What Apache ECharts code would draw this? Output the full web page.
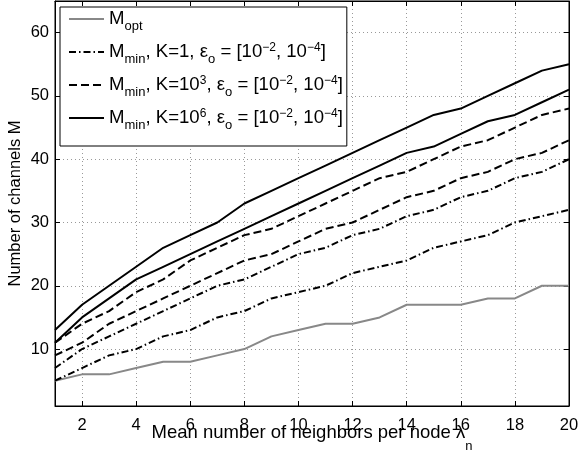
<!DOCTYPE html>
<html><head><meta charset="utf-8">
<script src="https://cdn.jsdelivr.net/npm/echarts@6/dist/echarts.min.js"></script>
<style>html,body{margin:0;padding:0;background:#fff}#c{width:581px;height:454px}</style>
</head><body><div id="c"></div>
<script>
// ---- data ----
const lambdaN = [1,2,3,4,5,6,7,8,9,10,11,12,13,14,15,16,17,18,19,20];
const mOpt   = [5,6,6,7,8,8,9,10,12,13,14,14,15,17,17,17,18,18,20,20];
const k1Eps2 = [5,7,9,10,12,13,15,16,18,19,20,22,23,24,26,27,28,30,31,32];
const k1Eps4 = [7,10,12,14,16,18,20,21,23,25,26,28,29,31,32,34,35,37,38,40];
const k3Eps2 = [9,11,14,16,18,20,22,24,25,27,29,30,32,34,35,37,38,40,41,43];
const k3Eps4 = [11,14,16,19,21,24,26,28,29,31,33,35,37,38,40,42,43,45,47,48];
const k6Eps2 = [11,15,18,21,23,25,27,29,31,33,35,37,39,41,42,44,46,47,49,51];
const k6Eps4 = [13,17,20,23,26,28,30,33,35,37,39,41,43,45,47,48,50,52,54,55];
const xTicks = [2,4,6,8,10,12,14,16,18,20];
const yTicks = [10,20,30,40,50,60];
const legendNames = ['Mopt','K1','K3','K6'];

const FONT = 'Liberation Sans, Arial, Helvetica, sans-serif';
const pair = (xs, ys) => xs.map((x, i) => [x, ys[i]]);
const DASH = [8, 4];
const DASHDOT = [7, 3, 1.5, 3];

const epsPart = '{m|, ε}{sub|o}{m| = [10}{sup|−2}{m|, 10}{sup|−4}{m|]}';
const legendText = {
  Mopt: '{m|M}{sub|opt}',
  K1: '{m|M}{sub|min}{m|, K=1}' + epsPart,
  K3: '{m|M}{sub|min}{m|, K=10}{sup|3}' + epsPart,
  K6: '{m|M}{sub|min}{m|, K=10}{sup|6}' + epsPart
};

function line(name, ys, color, type, width) {
  return {
    name: name, type: 'line', data: pair(lambdaN, ys), symbol: 'none',
    lineStyle: {color: color, type: type, width: width}, itemStyle: {color: color},
    emphasis: {disabled: true}, animation: false, z: 3
  };
}

const axisCommonX = {
  type: 'value', min: 1, max: 20,
  axisLine: {show: true, onZero: false, lineStyle: {color: '#000', width: 1}},
  axisTick: {show: true, inside: true, length: 5, customValues: xTicks, lineStyle: {color: '#000'}},
  axisLabel: {show: true, customValues: xTicks, color: '#000', fontSize: 16.5, fontFamily: FONT, margin: 11},
  splitLine: {show: false}
};
const axisCommonY = {
  type: 'value', min: 1, max: 65,
  axisLine: {show: true, onZero: false, lineStyle: {color: '#000', width: 1}},
  axisTick: {show: true, inside: true, length: 5, customValues: yTicks, lineStyle: {color: '#000'}},
  axisLabel: {show: true, customValues: yTicks, color: '#000', fontSize: 16.5, fontFamily: FONT, margin: 6},
  splitLine: {show: false}
};

const chart = echarts.init(document.getElementById('c'), null, {renderer: 'canvas'});
chart.setOption({
  animation: false,
  backgroundColor: '#fff',
  grid: {left: 55, right: 12, top: 1, bottom: 48, containLabel: false, outerBoundsMode: 'none',
    show: true, borderColor: '#000', borderWidth: 1, backgroundColor: 'transparent'},
  xAxis: [
    Object.assign({}, axisCommonX, {
      position: 'bottom',
      splitLine: {show: true, lineStyle: {color: '#999', type: [1, 3], width: 1}},
      name: '{m|Mean number of neighbors per node λ}{sub|n}',
      nameLocation: 'middle', nameGap: 17, nameMoveOverlap: false,
      nameTextStyle: {color: '#000', fontSize: 18.5, fontFamily: FONT, verticalAlign: 'top',
        rich: {
          m: {fontSize: 18.5, fontFamily: FONT, color: '#000', lineHeight: 20, verticalAlign: 'top'},
          sub: {fontSize: 13, fontFamily: FONT, color: '#000', lineHeight: 12, padding: [17, 0, 0, 0], verticalAlign: 'top'}
        }}
    }),
    Object.assign({}, axisCommonX, {position: 'top', axisLabel: {show: false, customValues: xTicks}})
  ],
  yAxis: [
    Object.assign({}, axisCommonY, {
      position: 'left',
      splitLine: {show: true, lineStyle: {color: '#999', type: [1, 3], width: 1}},
      name: 'Number of channels M', nameLocation: 'middle', nameGap: 31, nameMoveOverlap: false,
      nameTextStyle: {color: '#000', fontSize: 16.5, fontFamily: FONT}
    }),
    Object.assign({}, axisCommonY, {position: 'right', axisLabel: {show: false, customValues: yTicks}})
  ],
  legend: {
    show: true, orient: 'vertical', left: 60, top: 7,
    data: legendNames,
    backgroundColor: '#fff', borderColor: '#000', borderWidth: 1, borderRadius: 0,
    padding: [2, 4, 2, 8], itemGap: -3, itemWidth: 35, itemHeight: 14,
    selectedMode: false,
    itemStyle: {color: 'rgba(0,0,0,0)', borderColor: 'rgba(0,0,0,0)', borderWidth: 0},
    formatter: n => legendText[n],
    textStyle: {color: '#000', fontSize: 18.6, fontFamily: FONT,
      rich: {
        m: {fontSize: 18.6, fontFamily: FONT, color: '#000', lineHeight: 20, verticalAlign: 'top'},
        sub: {fontSize: 13, fontFamily: FONT, color: '#000', lineHeight: 13, verticalAlign: 'top', padding: [10.5, 0, 12.5, 0]},
        sup: {fontSize: 12, fontFamily: FONT, color: '#000', lineHeight: 1, verticalAlign: 'top'}
      }}
  },
  series: [
    line('Mopt', mOpt, '#888888', 'solid', 2),
    line('K1', k1Eps2, '#000', DASHDOT, 2),
    line('K1', k1Eps4, '#000', DASHDOT, 2),
    line('K3', k3Eps2, '#000', DASH, 2),
    line('K3', k3Eps4, '#000', DASH, 2),
    line('K6', k6Eps2, '#000', 'solid', 2),
    line('K6', k6Eps4, '#000', 'solid', 2)
  ]
});
</script></body></html>
